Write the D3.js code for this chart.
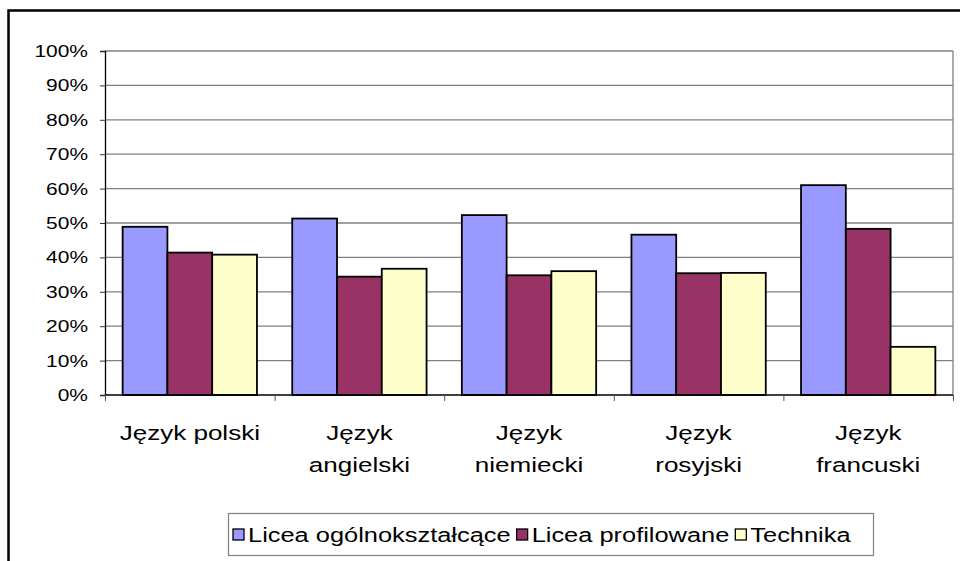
<!DOCTYPE html>
<html><head><meta charset="utf-8">
<script src="https://cdn.jsdelivr.net/npm/d3@7"></script>
<style>
html,body{margin:0;padding:0;background:#fff;}
text{font-family:"Liberation Sans",Arial,sans-serif;fill:#000;}
</style></head>
<body><svg id="c" width="960" height="561"></svg>
<script>
const categories = [["Język polski"],["Język","angielski"],["Język","niemiecki"],["Język","rosyjski"],["Język","francuski"]];
const seriesNames = ["Licea ogólnokształcące","Licea profilowane","Technika"];
const seriesColors = ["#9999FF","#993366","#FFFFCC"];
const liceaOgolno = [0.489,0.513,0.523,0.466,0.610];
const liceaProfil = [0.414,0.344,0.348,0.354,0.483];
const technika = [0.408,0.367,0.360,0.355,0.140];
const yTicks = [0,0.1,0.2,0.3,0.4,0.5,0.6,0.7,0.8,0.9,1.0];
const series = [liceaOgolno, liceaProfil, technika];

const SX = 1.27;
const svg = d3.select("#c");
// outer frame
svg.append("rect").attr("x",8.5).attr("y",10.5).attr("width",1000).attr("height",600)
  .attr("fill","#fff").attr("stroke","#000").attr("stroke-width",2.5);

const L=105, R=953, T=51, B=395;
const x0 = d3.scaleBand().domain(d3.range(categories.length)).range([L,R]).padding(0);
const gapFrac = 0.104;
const x1 = d3.scaleBand().domain(d3.range(series.length))
  .range([x0.bandwidth()*gapFrac, x0.bandwidth()*(1-gapFrac)]).padding(0);
const y = d3.scaleLinear().domain([0,1]).range([B,T]);

// gridlines
svg.append("g").selectAll("line").data(yTicks.filter(t=>t>0)).join("line")
  .attr("x1",L).attr("x2",R).attr("y1",d=>y(d)).attr("y2",d=>y(d))
  .attr("stroke","#808080").attr("stroke-width",1.3);
// right border
svg.append("line").attr("x1",R).attr("x2",R).attr("y1",T).attr("y2",B)
  .attr("stroke","#808080").attr("stroke-width",1.3);

// y axis
const yAxis = d3.axisLeft(y).tickValues(yTicks).tickSize(5).tickFormat(d3.format(".0%"));
const gy = svg.append("g").attr("transform",`translate(${L},0)`).call(yAxis);
gy.select(".domain").attr("stroke","#000").attr("stroke-width",1.3);
gy.selectAll(".tick line").attr("stroke","#333");
gy.selectAll(".tick text").remove();
svg.append("g").selectAll("text").data(yTicks).join("text")
  .attr("transform",d=>`translate(88,${y(d)+6}) scale(${SX},1)`)
  .attr("text-anchor","end").attr("font-size",16.5).text(d=>d3.format(".0%")(d));

// bars
const groups = svg.append("g").selectAll("g").data(categories.map((c,i)=>i)).join("g")
  .attr("transform",i=>`translate(${x0(i)},0)`);
groups.selectAll("rect").data(i=>series.map((s,j)=>({j,v:s[i]}))).join("rect")
  .attr("x",d=>x1(d.j)).attr("width",x1.bandwidth())
  .attr("y",d=>y(d.v)).attr("height",d=>B-y(d.v))
  .attr("fill",d=>seriesColors[d.j]).attr("stroke","#000").attr("stroke-width",1.8);

// x axis
const xAxisScale = d3.scaleLinear().domain([0,categories.length]).range([L,R]);
const gx = svg.append("g").attr("transform",`translate(0,${B})`)
  .call(d3.axisBottom(xAxisScale).tickValues(d3.range(categories.length+1)).tickSize(6).tickFormat(""));
gx.select(".domain").attr("stroke","#000").attr("stroke-width",1.5).attr("d",`M${L},0H${R}`);
gx.selectAll(".tick line").attr("stroke","#555");

// category labels
const cl = svg.append("g").selectAll("text").data(categories).join("text")
  .attr("transform",(d,i)=>`translate(${x0(i)+x0.bandwidth()/2},440) scale(${SX},1)`)
  .attr("text-anchor","middle").attr("font-size",20.5);
cl.selectAll("tspan").data(d=>d).join("tspan").attr("x",0).attr("dy",(d,k)=>k?32:0).text(d=>d);

// legend
const lg = svg.append("g");
const lx=228, ly=513, lh=42;
lg.append("rect").attr("x",lx+0.5).attr("y",ly+0.5).attr("width",645).attr("height",lh)
  .attr("fill","#fff").attr("stroke","#808080").attr("stroke-width",1.2);
let cx = lx+5;
seriesNames.forEach((n,j)=>{
  lg.append("rect").attr("x",cx).attr("y",ly+16).attr("width",11).attr("height",11)
    .attr("fill",seriesColors[j]).attr("stroke","#000").attr("stroke-width",1.3);
  const t = lg.append("text").attr("transform",`translate(${cx+15},${ly+29}) scale(${SX},1)`)
    .attr("font-size",20).text(n);
  cx += 15 + t.node().getComputedTextLength()*SX + 6;
});
</script></body></html>
